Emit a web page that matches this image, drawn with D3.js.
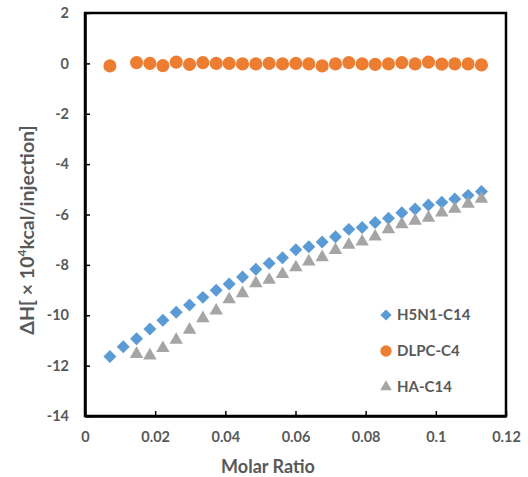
<!DOCTYPE html>
<html>
<head>
<meta charset="utf-8">
<script src="https://cdn.jsdelivr.net/npm/d3@7"></script>
<style>
  body { margin: 0; background: #fff; }
  svg { display: block; }
</style>
</head>
<body>
<script>
const width = 528;
const height = 477;
const margin = { top: 13, right: 22, bottom: 61, left: 85 };

// molar ratio of each injection
const molarRatio = [0.0071, 0.0109, 0.0147, 0.0185, 0.0222, 0.0260, 0.0298, 0.0336, 0.0374, 0.0411,
    0.0449, 0.0487, 0.0525, 0.0563, 0.0601, 0.0638, 0.0676, 0.0714, 0.0752, 0.0790,
    0.0827, 0.0865, 0.0903, 0.0941, 0.0979, 0.1017, 0.1054, 0.1092, 0.1130];

const h5n1 = [-11.64, -11.25, -10.93, -10.55, -10.20, -9.88, -9.59, -9.29, -9.01, -8.76,
    -8.48, -8.17, -7.94, -7.72, -7.40, -7.28, -7.09, -6.88, -6.59, -6.52,
    -6.32, -6.15, -5.93, -5.78, -5.62, -5.51, -5.38, -5.24, -5.09];

const dlpc = [-0.10, null, 0.03, 0.00, -0.09, 0.05, -0.04, 0.03, 0.00, 0.00,
    -0.02, -0.02, 0.00, -0.02, 0.00, -0.02, -0.10, -0.02, 0.03, -0.02,
    -0.04, -0.02, 0.03, -0.02, 0.05, -0.03, -0.02, -0.02, -0.06];

const ha = [null, null, -11.54, -11.60, -11.31, -10.98, -10.58, -10.12, -9.82, -9.37,
    -9.13, -8.73, -8.60, -8.37, -8.10, -7.87, -7.70, -7.41, -7.21, -7.08,
    -6.88, -6.59, -6.39, -6.25, -6.13, -5.93, -5.78, -5.58, -5.38];

const xTicks = [0, 0.02, 0.04, 0.06, 0.08, 0.1, 0.12];
const yTicks = [2, 0, -2, -4, -6, -8, -10, -12, -14];

const textColor = '#595959';
const font = 'Lato, "Open Sans", sans-serif';

const series = [
    { name: 'H5N1-C14', values: h5n1, color: '#5B9BD5', shape: 'diamond' },
    { name: 'DLPC-C4', values: dlpc, color: '#ED7D31', shape: 'circle' },
    { name: 'HA-C14', values: ha, color: '#A5A5A5', shape: 'triangle' }
];

const x = d3.scaleLinear()
    .domain([0, 0.12])
    .range([margin.left, width - margin.right]);

const y = d3.scaleLinear()
    .domain([-14, 2])
    .range([height - margin.bottom, margin.top]);

const markerPath = (shape, scale = 1) => {
    if (shape === 'diamond') return d3.symbol(d3.symbolSquare, 84 * scale)();
    if (shape === 'circle') return d3.symbol(d3.symbolCircle, 135 * scale)();
    return d3.symbol(d3.symbolTriangle, 78 * scale)();
};
const markerRotate = shape => shape === 'diamond' ? ' rotate(45)' : '';

const svg = d3.select('body').append('svg')
    .attr('width', width)
    .attr('height', height)
    .attr('font-family', font)
    .attr('font-weight', 'bold');

// frame
svg.append('rect')
    .attr('x', x(0))
    .attr('y', y(2))
    .attr('width', x(0.12) - x(0))
    .attr('height', y(-14) - y(2))
    .attr('fill', 'none')
    .attr('stroke', '#000')
    .attr('stroke-width', 2.5);

const xAxis = d3.axisBottom(x)
    .tickValues(xTicks)
    .tickSizeInner(-5)
    .tickSizeOuter(0)
    .tickPadding(16)
    .tickFormat(d => d);

const yAxis = d3.axisLeft(y)
    .tickValues(yTicks)
    .tickSizeInner(-5)
    .tickSizeOuter(0)
    .tickPadding(16)
    .tickFormat(d => d);

const gx = svg.append('g')
    .attr('transform', `translate(0,${y(-14)})`)
    .call(xAxis);

const gy = svg.append('g')
    .attr('transform', `translate(${x(0)},0)`)
    .call(yAxis);

[gx, gy].forEach(g => {
    g.select('.domain').attr('stroke', '#000').attr('stroke-width', 2.5);
    g.selectAll('.tick line').attr('stroke', '#000').attr('stroke-width', 1.5);
    g.selectAll('.tick text')
        .attr('fill', textColor)
        .attr('font-family', font)
        .attr('font-weight', 'bold')
        .attr('font-size', 14.5);
});
gy.selectAll('.tick text').attr('x', -16);

// markers
series.forEach(s => {
    const pts = s.values
        .map((v, i) => ({ x: molarRatio[i], y: v }))
        .filter(d => d.y !== null);
    svg.append('g')
        .selectAll('path')
        .data(pts)
        .join('path')
        .attr('d', markerPath(s.shape))
        .attr('fill', s.color)
        .attr('transform', d => `translate(${x(d.x)},${y(d.y)})${markerRotate(s.shape)}`);
});

// axis titles
svg.append('text')
    .attr('x', 268)
    .attr('y', 473)
    .attr('text-anchor', 'middle')
    .attr('fill', textColor)
    .attr('font-size', 18)
    .text('Molar Ratio');

const yTitle = svg.append('text')
    .attr('transform', 'translate(34,230) rotate(-90)')
    .attr('text-anchor', 'middle')
    .attr('fill', textColor)
    .attr('font-size', 19.5);
yTitle.append('tspan').text('ΔH[ × 10');
yTitle.append('tspan').attr('font-size', 12).attr('dy', -8).text('4');
yTitle.append('tspan').attr('dy', 8).text('kcal/injection]');

// legend
const legend = svg.append('g')
    .selectAll('g')
    .data(series)
    .join('g')
    .attr('transform', (d, i) => `translate(386,${315 + i * 36})`);

legend.append('path')
    .attr('d', d => markerPath(d.shape, 0.75))
    .attr('fill', d => d.color)
    .attr('transform', d => markerRotate(d.shape).trim());

legend.append('text')
    .attr('x', 11)
    .attr('y', 5)
    .attr('fill', textColor)
    .attr('font-size', 15)
    .text(d => d.name);
</script>
</body>
</html>
